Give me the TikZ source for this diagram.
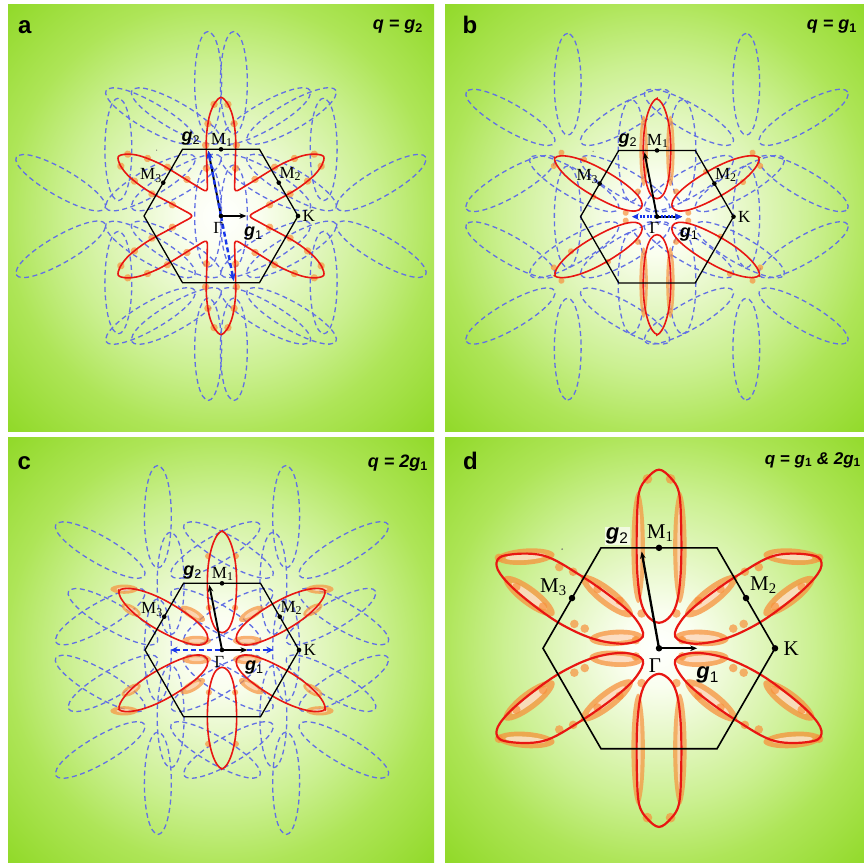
\documentclass[tikz,border=0pt]{standalone}
\usepackage{fontspec}
\setmainfont{Liberation Serif}
\newfontfamily\hv{Liberation Sans}
\usetikzlibrary{arrows.meta}
\definecolor{gc0}{RGB}{250,254,240}
\definecolor{gc1}{RGB}{228,247,195}
\definecolor{gc2}{RGB}{203,240,145}
\definecolor{gc3}{RGB}{174,229,88}
\definecolor{gc4}{RGB}{142,216,36}
\definecolor{fsred}{RGB}{232,22,18}
\definecolor{fsblue}{RGB}{98,112,228}
\definecolor{arrblue}{RGB}{25,55,235}
\definecolor{blob}{RGB}{248,145,60}
\pgfdeclareradialshading{panelbg}{\pgfpoint{0bp}{0bp}}{color(0bp)=(white); color(3bp)=(gc0); color(7.5bp)=(gc1); color(12.5bp)=(gc2); color(17.5bp)=(gc3); color(25bp)=(gc4); color(50bp)=(gc4)}
\tikzset{
 bluefs/.style={draw=fsblue, dash pattern=on 5pt off 3.5pt, line width=1.3pt},
 redfs/.style={draw=fsred, line width=1.6pt},
 hexa/.style={draw=black, line width=1.3pt},
 vecarrow/.style={-{Stealth[length=7pt,width=5.5pt]}, line width=1.9pt},
 qarrow/.style={draw=arrblue, line width=2.4pt, dash pattern=on 5pt off 3pt},
 orangedot/.style={fill=blob, fill opacity=0.7, draw=none},
 lbl/.style={font=\fontsize{17}{17}\selectfont, inner sep=0pt},
 glbl/.style={font=\hv\bfseries\itshape\fontsize{18}{18}\selectfont, inner sep=0pt},
 plbl/.style={font=\hv\bfseries\fontsize{24}{24}\selectfont, inner sep=0pt, anchor=base west},
 qlbl/.style={font=\hv\bfseries\itshape\fontsize{18}{18}\selectfont, inner sep=0pt}
}
\newcommand{\ulobe}{(1,0) .. controls (1,0.58) and (0.55,1) .. (0,1) .. controls (-0.55,1) and (-1,0.58) .. (-1,0) .. controls (-1,-0.58) and (-0.55,-1) .. (0,-1) .. controls (0.55,-1) and (1,-0.58) .. cycle}
\newcommand{\rlobe}{(1,0) .. controls (0.97,0.42) and (0.6,1) .. (0,1) .. controls (-0.62,1) and (-1,0.62) .. (-1,0) .. controls (-1,-0.62) and (-0.62,-1) .. (0,-1) .. controls (0.6,-1) and (0.97,-0.42) .. cycle}
\newcommand{\bstar}[3]{\foreach \ang in {#3}{\draw[bluefs, shift={(#1,#2)}, rotate=\ang, shift={(0.865,0)}, xscale=0.665, yscale=0.175] \ulobe;}}
\newcommand{\bzbase}[2]{%
 \draw[hexa] (1,0) -- (0.5,0.866) -- (-0.5,0.866) -- (-1,0) -- (-0.5,-0.866) -- (0.5,-0.866) -- cycle;
 \fill[black!55] (-0.835,0.855) circle (0.008);
 \foreach \p in {(0,0),(1,0),(0,0.866),(0.75,0.433),(-0.75,0.433)}{\fill[black] \p circle (#2);}
 \node[lbl] (M1#1) at (0.01,0.99) {M\textsubscript{1}};
 \node[lbl] (M2#1) at (0.9,0.545) {M\textsubscript{2}};
 \node[lbl] (M3#1) at (-0.91,0.525) {M\textsubscript{3}};
 \node[lbl] (K#1) at (1.14,0) {K};
 \node[lbl] (Gam#1) at (-0.035,-0.15) {Γ};
 \node[glbl] (gl1#1) at (0.42,-0.23) {g\textsubscript{\normalfont\hv 1}};
}
\begin{document}
\begin{tikzpicture}[x=1pt,y=1pt]
\useasboundingbox (0,0) rectangle (864,862);
\fill[white] (0,0) rectangle (864,862);

%% ================= panel a
\begin{scope}
\clip (8,430) rectangle (434,857);
\shade[shading=panelbg] (221,646) circle (310);
\begin{scope}[shift={(221,646)}, scale=77]
 \bstar{-0.167}{0.866}{30,90,150,210,270,330}
 \bstar{0.167}{-0.866}{30,90,150,210,270,330}
 \bstar{0.167}{0.866}{30,90,150,210,330}
 \bstar{-0.167}{-0.866}{30,150,210,270,330}
 \bstar{-1.333}{0}{90,150,210,270}
 \bstar{1.333}{0}{30,90,270,330}
 \foreach \ang in {30,90,...,330}{\foreach \dd/\ww in {0.62/0.19,0.92/0.2,1.2/0.17,1.45/0.09,0.62/-0.19,0.92/-0.2,1.2/-0.17,1.45/-0.09}{\fill[orangedot, rotate=\ang] (\dd,\ww) circle (0.048);}}
 \draw[redfs] plot[smooth cycle, tension=0.5] coordinates {
 (30-19.8:0.531) (30-10.8:1.018) (30-6.6:1.309) (30-3.1:1.472) (30:1.54) (30+3.1:1.472) (30+6.6:1.309) (30+10.8:1.018) (30+19.8:0.531) (60:0.38)
 (90-19.8:0.531) (90-10.8:1.018) (90-6.6:1.309) (90-3.1:1.472) (90:1.54) (90+3.1:1.472) (90+6.6:1.309) (90+10.8:1.018) (90+19.8:0.531) (120:0.38)
 (150-19.8:0.531) (150-10.8:1.018) (150-6.6:1.309) (150-3.1:1.472) (150:1.54) (150+3.1:1.472) (150+6.6:1.309) (150+10.8:1.018) (150+19.8:0.531) (180:0.38)
 (210-19.8:0.531) (210-10.8:1.018) (210-6.6:1.309) (210-3.1:1.472) (210:1.54) (210+3.1:1.472) (210+6.6:1.309) (210+10.8:1.018) (210+19.8:0.531) (240:0.38)
 (270-19.8:0.531) (270-10.8:1.018) (270-6.6:1.309) (270-3.1:1.472) (270:1.54) (270+3.1:1.472) (270+6.6:1.309) (270+10.8:1.018) (270+19.8:0.531) (300:0.38)
 (330-19.8:0.531) (330-10.8:1.018) (330-6.6:1.309) (330-3.1:1.472) (330:1.54) (330+3.1:1.472) (330+6.6:1.309) (330+10.8:1.018) (330+19.8:0.531) (0:0.38)};
 \coordinate (Ga) at (0,0);
 \coordinate (t1a) at (0.33,0);
 \coordinate (t2a) at (-0.165,0.845);
 \coordinate (t3a) at (0.165,-0.845);
 \draw[vecarrow] (Ga) -- (t1a);
 \draw[vecarrow] (Ga) -- (t2a);
 \draw[qarrow, -{Stealth[length=8pt,width=6.5pt]}] (Ga) -- (t2a);
 \draw[qarrow, -{Stealth[length=8pt,width=6.5pt]}] (Ga) -- (t3a);
 \bzbase{a}{0.03}
 \node[glbl] (gl2a) at (-0.39,1.0) {g\textsubscript{\normalfont\hv 2}};
\end{scope}
\node[plbl] (pa) at (18,828.7) {a};
\node[qlbl, anchor=base east] (qa) at (423,832.6) {q = g\textsubscript{\upshape 2}};
\end{scope}

%% ================= panel b
\begin{scope}
\clip (445,430) rectangle (864,857);
\shade[shading=panelbg] (657,645.3) circle (310);
\begin{scope}[shift={(657,645.3)}, scale=76.5]
 \bstar{0.333}{0}{30,90,150,210,270,330}
 \bstar{-0.333}{0}{30,90,150,210,270,330}
 \bstar{-1.167}{0.866}{30,90,150,210}
 \bstar{-1.167}{-0.866}{90,150,210,270,330}
 \bstar{1.167}{0.866}{30,90,150,330}
 \bstar{1.167}{-0.866}{30,90,210,270,330}
 \foreach \sx/\sy in {1/1,-1/1,1/-1,-1/-1}{\fill[orangedot] (0.175*\sx,0.86*\sy) ellipse [x radius=0.055, y radius=0.46];
   \fill[white, opacity=0.4] (0.175*\sx,0.86*\sy) ellipse [x radius=0.02, y radius=0.34];}
 \foreach \ang in {30,150,210,330}{\foreach \dd/\ww in {1.5/0.1,1.5/-0.1,0.38/0.16,0.38/-0.16,0.85/0.19,1.2/-0.17}{\fill[orangedot, rotate=\ang] (\dd,\ww) circle (0.04);}}
 \foreach \ang in {30,90,...,330}{\draw[redfs, rotate=\ang, shift={(0.89,0)}, xscale=0.655, yscale=0.18] \rlobe;}
 \coordinate (Gb) at (0,0);
 \coordinate (t1b) at (0.33,0);
 \coordinate (t2b) at (-0.165,0.845);
 \coordinate (t4b) at (-0.33,0);
 \draw[vecarrow] (Gb) -- (t1b);
 \draw[vecarrow] (Gb) -- (t2b);
 \draw[qarrow, dash pattern=on 2pt off 1.5pt, {Stealth[length=7pt,width=6.5pt]}-{Stealth[length=7pt,width=6.5pt]}] (t4b) -- (t1b);
 \bzbase{b}{0.03}
 \node[glbl] (gl2b) at (-0.38,1.0) {g\textsubscript{\normalfont\hv 2}};
\end{scope}
\node[plbl] (pb) at (462.5,828.7) {b};
\node[qlbl, anchor=base east] (qb) at (857,832.6) {q = g\textsubscript{\upshape 1}};
\end{scope}

%% ================= panel c
\begin{scope}
\clip (8,0) rectangle (434,424);
\shade[shading=panelbg] (222,212) circle (310);
\begin{scope}[shift={(222,212)}, scale=77]
 \bstar{0.667}{0}{30,90,150,210,270,330}
 \bstar{-0.667}{0}{30,90,150,210,270,330}
 \bstar{-0.833}{0.866}{30,90,150,210}
 \bstar{-0.833}{-0.866}{90,150,210,270,330}
 \bstar{0.833}{0.866}{30,90,150,330}
 \bstar{0.833}{-0.866}{30,90,210,270,330}
 \foreach \sx/\sy in {1/1,-1/1,1/-1,-1/-1}{
  \begin{scope}[xscale=\sx, yscale=\sy]
   \fill[orangedot] (1.27,0.79) ellipse [x radius=0.18, y radius=0.06];
   \fill[orangedot, rotate around={30:(1.18,0.52)}] (1.18,0.52) ellipse [x radius=0.14, y radius=0.06];
   \fill[orangedot, rotate around={30:(0.38,0.47)}] (0.38,0.47) ellipse [x radius=0.18, y radius=0.065];
   \fill[orangedot] (0.33,0.12) ellipse [x radius=0.19, y radius=0.065];
   \foreach \cx/\cy/\rot in {1.27/0.79/0, 1.18/0.52/30, 0.38/0.47/30, 0.33/0.12/0}{\fill[white, opacity=0.45, rotate around={\rot:(\cx,\cy)}] (\cx,\cy) ellipse [x radius=0.1, y radius=0.025];}
   \fill[orangedot] (0.18,1.22) circle (0.04);
   \fill[orangedot] (0.17,0.55) circle (0.04);
  \end{scope}}
 \foreach \ang in {30,90,...,330}{\draw[redfs, rotate=\ang, shift={(0.885,0)}, xscale=0.66, yscale=0.19] \rlobe;}
 \coordinate (Gc) at (0,0);
 \coordinate (t1c) at (0.33,0);
 \coordinate (t2c) at (-0.165,0.845);
 \coordinate (t5c) at (0.667,0);
 \coordinate (t6c) at (-0.667,0);
 \draw[qarrow, {Stealth[length=7pt,width=6.5pt]}-{Stealth[length=7pt,width=6.5pt]}] (t6c) -- (t5c);
 \draw[vecarrow] (Gc) -- (t1c);
 \draw[vecarrow] (Gc) -- (t2c);
 \bzbase{c}{0.03}
 \node[glbl] (gl2c) at (-0.38,1.0) {g\textsubscript{\normalfont\hv 2}};
\end{scope}
\node[plbl] (pc) at (17.5,392.7) {c};
\node[qlbl, anchor=base east] (qc) at (428,394.3) {q = 2g\textsubscript{\upshape 1}};
\end{scope}

%% ================= panel d
\begin{scope}
\clip (445,0) rectangle (864,424);
\shade[shading=panelbg] (659,213.7) circle (310);
\begin{scope}[shift={(659,213.7)}, scale=116, lbl/.style={font=\fontsize{21}{21}\selectfont, inner sep=0pt}, glbl/.style={font=\hv\bfseries\itshape\fontsize{22}{22}\selectfont, inner sep=0pt}]
 \foreach \sx/\sy in {1/1,-1/1,1/-1,-1/-1}{
  \begin{scope}[xscale=\sx, yscale=\sy]
   \foreach \cx/\cy/\rot/\rx/\ry in {1.15/0.79/-4/0.25/0.07, 1.12/0.45/37/0.27/0.08, 0.45/0.45/38/0.28/0.08, 0.37/0.09/-3/0.23/0.07}{
     \fill[blob, opacity=0.75, rotate around={\rot:(\cx,\cy)}] (\cx,\cy) ellipse [x radius=\rx, y radius=\ry];
     \fill[white, opacity=0.6, rotate around={\rot:(\cx,\cy)}] (\cx,\cy) ellipse [x radius=0.7*\rx, y radius=0.4*\ry];}
   \foreach \cx/\cy in {0.74/0.66,0.86/0.7,0.53/0.51,0.34/0.41,0.64/0.17,0.73/0.21,1.0/0.36,1.23/0.53,1.38/0.78,0.2/0.07}{\fill[orangedot] (\cx,\cy) circle (0.037);}
   \fill[blob, opacity=0.7] (0.18,0.87) ellipse [x radius=0.058, y radius=0.48];
   \fill[white, opacity=0.5] (0.18,0.87) ellipse [x radius=0.022, y radius=0.36];
   \fill[orangedot] (0.1,1.46) circle (0.042);
   \fill[orangedot] (0.15,0.3) circle (0.037);
  \end{scope}}
 \foreach \sx/\sy in {1/1,-1/1,1/-1,-1/-1}{
  \begin{scope}[xscale=\sx, yscale=\sy]
   \draw[redfs, line width=2.2pt] plot[smooth cycle, tension=0.6] coordinates {(0.14,0.1) (0.3,0.04) (0.56,0.08) (0.83,0.2) (1.08,0.37) (1.3,0.56) (1.4,0.71) (1.33,0.8) (1.0,0.8) (0.68,0.63) (0.38,0.42) (0.2,0.25)};
  \end{scope}}
 \foreach \sy in {1,-1}{
  \begin{scope}[yscale=\sy]
   \draw[redfs, line width=2.2pt] plot[smooth cycle, tension=0.6] coordinates {(0,1.54) (0.1,1.47) (0.17,1.35) (0.19,1.1) (0.19,0.7) (0.16,0.42) (0.1,0.28) (0,0.22) (-0.1,0.28) (-0.16,0.42) (-0.19,0.7) (-0.19,1.1) (-0.17,1.35) (-0.1,1.47)};
  \end{scope}}
 \coordinate (Gd) at (0,0);
 \coordinate (t1d) at (0.33,0);
 \coordinate (t2d) at (-0.15,0.835);
 \begin{scope}[hexa/.style={draw=black, line width=1.6pt}]
 \draw[vecarrow, line width=2.3pt] (Gd) -- (t1d);
 \draw[vecarrow, line width=2.3pt] (Gd) -- (t2d);
 \bzbase{d}{0.028}
 \end{scope}
 \node[glbl, fill=white, fill opacity=0.65, text opacity=1, inner sep=1pt] (gl2d) at (-0.36,0.97) {g\textsubscript{\normalfont\hv 2}};
\end{scope}
\node[plbl] (pd) at (463,392.7) {d};
\node[qlbl, anchor=base east, font=\hv\bfseries\itshape\fontsize{17}{17}\selectfont] (qd) at (861,397.6) {q = g\textsubscript{\upshape 1} \& 2g\textsubscript{\upshape 1}};
\end{scope}
\end{tikzpicture}
\end{document}
